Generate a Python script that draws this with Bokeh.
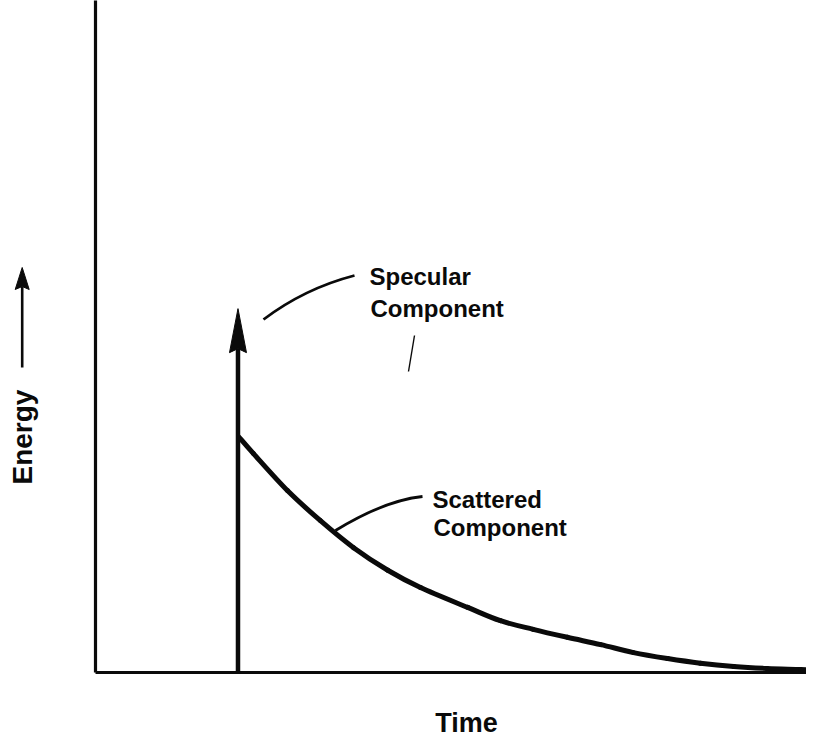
import math
from bokeh.plotting import figure
from bokeh.models import Range1d
from bokeh.core.properties import value
from bokeh.embed import file_html
from bokeh.resources import INLINE

# ---------------- data (arbitrary units: time 0-100, energy 0-100) ----------------
time_max = 100.0
energy_max = 100.0

scatter_time = [19.7, 21.7, 26.4, 30.9, 35.5, 40.2, 44.7, 51.2, 55.7, 60.2,
                64.9, 69.5, 74.0, 78.7, 83.2, 87.8, 92.4, 97.0, 100.0]
scatter_energy = [35.5, 33.0, 27.4, 22.9, 18.8, 15.4, 12.8, 9.8, 7.8, 6.5,
                  5.3, 4.2, 3.0, 2.1, 1.4, 0.9, 0.6, 0.45, 0.3]

specular_time = 19.6
specular_peak = 54.8

label_specular = ["Specular", "Component"]
label_scattered = ["Scattered", "Component"]
x_title = "Time"
y_title = "Energy"

# ---------------- layout helpers (picture pixels -> data units) ----------------
W, H = 806, 737
X0, XS = 95.0, 7.27      # px of time 0, px per time unit
Y0, YS = 672.0, 6.64     # px of energy 0, px per energy unit
TXT_SHIFT = 9            # svg text baseline correction (px)


def tx(px):
    return (px - X0) / XS


def ey(py):
    return (Y0 - py) / YS


p = figure(width=W, height=H, output_backend="svg", toolbar_location=None,
           x_range=Range1d(tx(0), tx(W)),
           y_range=Range1d(ey(H), ey(0)),
           x_axis_location=None, y_axis_location=None,
           min_border=0)
p.outline_line_color = None
p.grid.visible = False
p.background_fill_color = "white"
p.border_fill_color = "white"

INK = "#0a0a0a"

# axes as heavy lines
p.line([0, 0], [0, energy_max + 5], line_width=3.2, line_color=INK)
p.line([0, time_max], [0, 0], line_width=3.2, line_color=INK)

# scattered component: smooth curve through the read points (Catmull-Rom -> Bezier)
n = len(scatter_time)
bx0, by0, bx1, by1, bcx0, bcy0, bcx1, bcy1 = ([] for _ in range(8))
for i in range(n - 1):
    xa, ya = scatter_time[i], scatter_energy[i]
    xb, yb = scatter_time[i + 1], scatter_energy[i + 1]
    xp, yp = (scatter_time[i - 1], scatter_energy[i - 1]) if i > 0 else (xa, ya)
    xn, yn = (scatter_time[i + 2], scatter_energy[i + 2]) if i + 2 < n else (xb, yb)
    bx0.append(xa); by0.append(ya); bx1.append(xb); by1.append(yb)
    bcx0.append(xa + (xb - xp) / 6); bcy0.append(ya + (yb - yp) / 6)
    bcx1.append(xb - (xn - xa) / 6); bcy1.append(yb - (yn - ya) / 6)
p.bezier(x0=bx0, y0=by0, x1=bx1, y1=by1, cx0=bcx0, cy0=bcy0, cx1=bcx1, cy1=bcy1,
         line_width=5, line_color=INK, line_cap="round")

# specular component: arrow
head_len = 44 / YS
head_hw = 8.5 / XS
notch = 4 / YS
p.line([specular_time, specular_time], [0, specular_peak - head_len + notch],
       line_width=4.5, line_color=INK)
p.patch([specular_time, specular_time + head_hw, specular_time, specular_time - head_hw],
        [specular_peak, specular_peak - head_len, specular_peak - head_len + notch,
         specular_peak - head_len],
        fill_color=INK, line_color=INK, line_width=1)

# leader lines
p.quadratic(x0=[tx(263)], y0=[ey(319)], x1=[tx(354)], y1=[ey(275)],
            cx=[tx(304)], cy=[ey(288)], line_width=2.8, line_color=INK)
p.quadratic(x0=[tx(335)], y0=[ey(530)], x1=[tx(422)], y1=[ey(496)],
            cx=[tx(384)], cy=[ey(500)], line_width=2.8, line_color=INK)
# small stray stroke
p.line([tx(408), tx(414)], [ey(371), ey(335)], line_width=1.4, line_color=INK)

FONT = value("Liberation Sans")

# annotation texts
p.text(x=[tx(369), tx(370)], y=[ey(285 - TXT_SHIFT), ey(317 - TXT_SHIFT)],
       text=label_specular, text_font=FONT, text_font_size=value("24px"),
       text_font_style="bold", text_color=INK, text_align="left",
       text_baseline="alphabetic")
p.text(x=[tx(432), tx(433)], y=[ey(508 - TXT_SHIFT), ey(536 - TXT_SHIFT)],
       text=label_scattered, text_font=FONT, text_font_size=value("24px"),
       text_font_style="bold", text_color=INK, text_align="left",
       text_baseline="alphabetic")

# axis titles
p.text(x=[tx(466)], y=[ey(731 - TXT_SHIFT)], text=[x_title], text_font=FONT,
       text_font_size=value("27px"), text_font_style="bold", text_color=INK,
       text_align="center", text_baseline="alphabetic")
p.text(x=[tx(32 - TXT_SHIFT - 1)], y=[ey(484)], text=[y_title], text_font=FONT,
       text_font_size=value("28px"), text_font_style="bold", text_color=INK,
       angle=math.pi / 2, text_align="left", text_baseline="alphabetic")

# energy arrow next to the y title
ax_x = tx(21.7)
p.line([ax_x, ax_x], [ey(367), ey(286)], line_width=2.6, line_color=INK)
ah_len = 22 / YS
ah_hw = 7 / XS
p.patch([ax_x, ax_x + ah_hw, ax_x, ax_x - ah_hw],
        [ey(267), ey(267) - ah_len, ey(267) - ah_len + 3 / YS, ey(267) - ah_len],
        fill_color=INK, line_color=INK, line_width=1)

open("out.html", "w").write(file_html(p, INLINE))
